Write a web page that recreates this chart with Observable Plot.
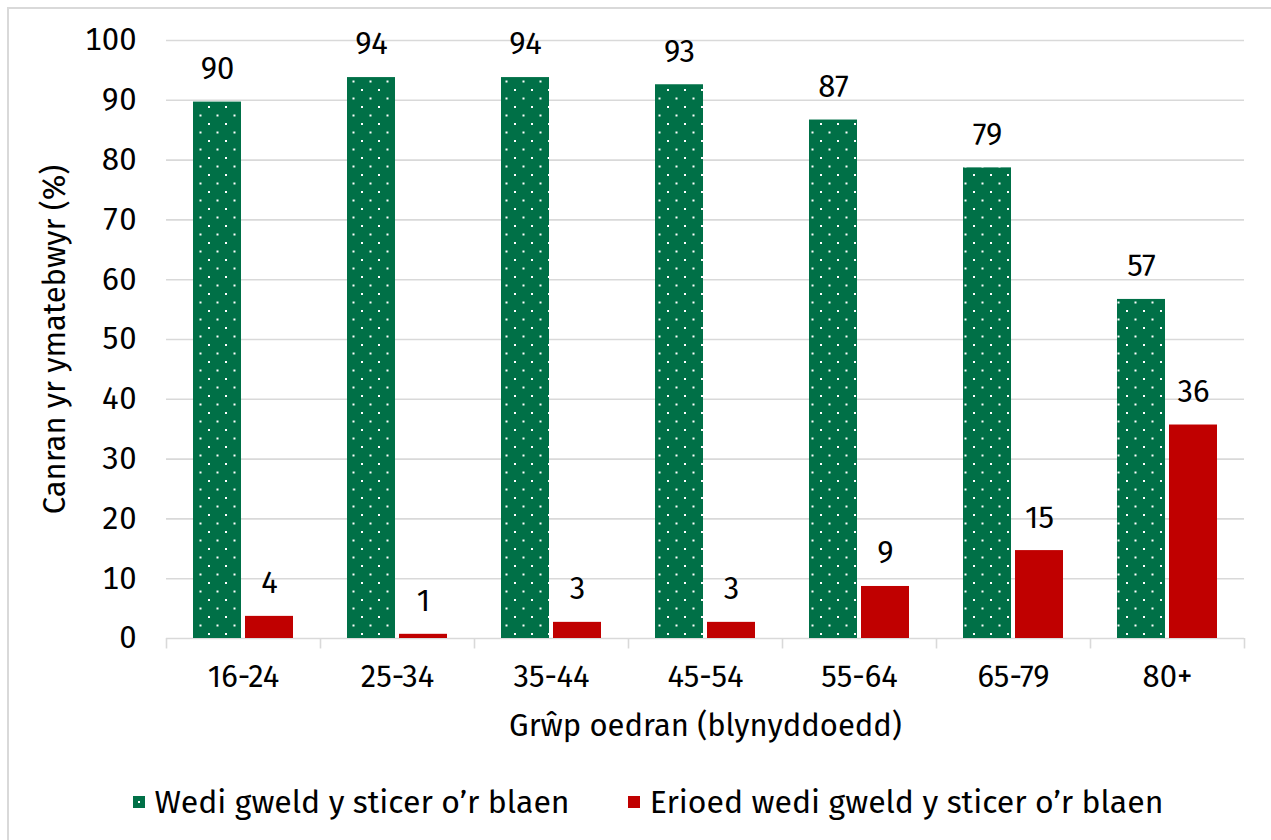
<!DOCTYPE html>
<html>
<head>
<meta charset="utf-8">
<script src="https://cdn.jsdelivr.net/npm/d3@7"></script>
<script src="https://cdn.jsdelivr.net/npm/@observablehq/plot@0.6"></script>
<style>
  html, body { margin: 0; padding: 0; background: #fff; }
  #wrap { position: relative; width: 1271px; height: 840px; overflow: hidden; font-family: "Fira Sans", "Open Sans", sans-serif; color: #000; }
  #frame { position: absolute; left: 7px; top: 7px; width: 1280px; height: 850px; border: 2px solid #d9d9d9; box-sizing: border-box; pointer-events: none; }
  #legend { position: absolute; left: 0; top: 770px; width: 1271px; height: 64px; display: flex; justify-content: center; align-items: center; gap: 58px; font-size: 32px; padding-left: 25px; box-sizing: border-box; }
  .item { display: flex; align-items: center; gap: 10px; }
  .item svg { display: block; }
</style>
</head>
<body>
<div id="wrap"><div id="chart"></div><div id="legend"></div><div id="frame"></div></div>
<script>
const categories = ["16-24", "25-34", "35-44", "45-54", "55-64", "65-79", "80+"];
const seenValues = [89.7, 93.8, 93.8, 92.6, 86.7, 78.7, 56.7];
const neverValues = [3.7, 0.7, 2.7, 2.7, 8.7, 14.7, 35.7];
const seriesNames = ["Wedi gweld y sticer o’r blaen", "Erioed wedi gweld y sticer o’r blaen"];
const yTicks = [0, 10, 20, 30, 40, 50, 60, 70, 80, 90, 100];
const yLabel = "Canran yr ymatebwyr (%)";
const xLabel = "Grŵp oedran (blynyddoedd)";

const green = "#007047";
const red = "#c00000";
const grid = "#d9d9d9";

const seenRows = categories.map((c, i) => ({cat: c, series: seriesNames[0], value: seenValues[i]}));
const neverRows = categories.map((c, i) => ({cat: c, series: seriesNames[1], value: neverValues[i]}));

const W = 1271, H = 770, mL = 166, mR = 27, mT = 40, mB = 132;
const step = (W - mL - mR) / categories.length;
const barW = 48, gap = 4;
const outer = (step - 2 * barW - gap) / 2;
const fmt = v => String(Math.round(v));

const chart = Plot.plot({
  width: W, height: H,
  marginLeft: mL, marginRight: mR, marginTop: mT, marginBottom: mB,
  style: {fontFamily: "'Fira Sans', 'Open Sans', sans-serif", fontSize: "31px", color: "#000", background: "transparent", overflow: "visible"},
  x: {domain: categories, padding: 0},
  y: {domain: [0, 100]},
  marks: [
    Plot.gridY(yTicks.filter(t => t > 0), {stroke: grid, strokeOpacity: 1, strokeWidth: 1.6}),
    Plot.ruleY([0], {stroke: grid, strokeWidth: 1.6}),
    Plot.ruleX(categories, {x: d => d, y1: 0, y2: -1.75, dx: -step / 2, stroke: grid, strokeWidth: 1.6}),
    Plot.ruleX(categories.slice(-1), {x: d => d, y1: 0, y2: -1.75, dx: step / 2, stroke: grid, strokeWidth: 1.6}),
    Plot.barY(seenRows, {x: "cat", y: "value", fill: "url(#dots)", insetLeft: outer, insetRight: outer + barW + gap}),
    Plot.barY(neverRows, {x: "cat", y: "value", fill: red, insetLeft: outer + barW + gap, insetRight: outer}),
    Plot.text(seenRows, {x: "cat", y: "value", text: d => fmt(d.value), dx: -(barW + gap) / 2, dy: -33, fill: "#000"}),
    Plot.text(neverRows, {x: "cat", y: "value", text: d => fmt(d.value), dx: (barW + gap) / 2, dy: -33, fill: "#000"}),
    Plot.axisY({ticks: yTicks, tickSize: 0, tickPadding: 30, label: yLabel, labelAnchor: "center", labelArrow: "none", labelOffset: 124}),
    Plot.axisX({tickSize: 0, tickPadding: 26, label: xLabel, labelAnchor: "center", labelArrow: "none", labelOffset: 97})
  ]
});

// dotted pattern for the first series
const ns = "http://www.w3.org/2000/svg";
function makePattern(svg, id) {
  let defs = svg.querySelector("defs");
  if (!defs) { defs = document.createElementNS(ns, "defs"); svg.insertBefore(defs, svg.firstChild); }
  const p = document.createElementNS(ns, "pattern");
  p.setAttribute("id", id);
  p.setAttribute("patternUnits", "userSpaceOnUse");
  p.setAttribute("width", 17); p.setAttribute("height", 17);
  const bg = document.createElementNS(ns, "rect");
  bg.setAttribute("width", 17); bg.setAttribute("height", 17); bg.setAttribute("fill", green);
  p.appendChild(bg);
  for (const [x, y] of [[4, 4], [12.5, 12.5]]) {
    const r = document.createElementNS(ns, "rect");
    r.setAttribute("x", x); r.setAttribute("y", y);
    r.setAttribute("width", 2); r.setAttribute("height", 2);
    r.setAttribute("fill", "#fff");
    p.appendChild(r);
  }
  defs.appendChild(p);
}
makePattern(chart, "dots");
document.getElementById("chart").appendChild(chart);

// legend
const legend = document.getElementById("legend");
seriesNames.forEach((name, i) => {
  const item = document.createElement("div");
  item.className = "item";
  const sw = document.createElementNS(ns, "svg");
  sw.setAttribute("width", 12); sw.setAttribute("height", 12);
  const r = document.createElementNS(ns, "rect");
  r.setAttribute("width", 12); r.setAttribute("height", 12);
  r.setAttribute("fill", i === 0 ? green : red);
  sw.appendChild(r);
  if (i === 0) {
    const d = document.createElementNS(ns, "rect");
    d.setAttribute("x", 5); d.setAttribute("y", 5); d.setAttribute("width", 2); d.setAttribute("height", 2);
    d.setAttribute("fill", "#fff");
    sw.appendChild(d);
  }
  const t = document.createElement("span");
  t.textContent = name;
  item.appendChild(sw); item.appendChild(t);
  legend.appendChild(item);
});
</script>
</body>
</html>
